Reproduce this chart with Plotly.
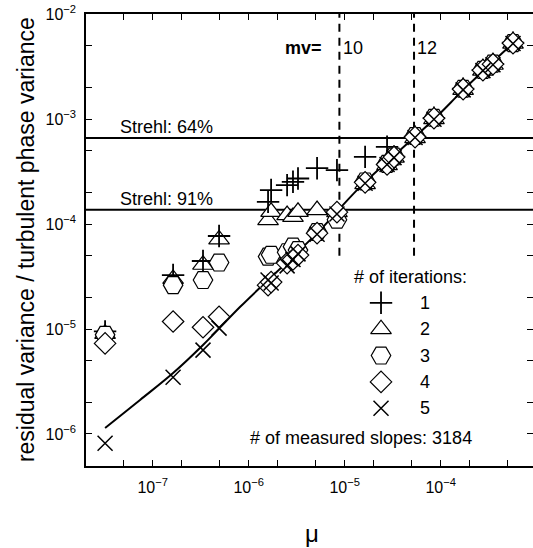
import math
import plotly.graph_objects as go

# ---------------- data ----------------
mu = [3.19e-8, 1.63e-7, 3.34e-7, 4.91e-7, 1.59e-6, 1.71e-6, 2.51e-6, 2.89e-6,
      3.26e-6, 5.15e-6, 8.3e-6, 1.63e-5, 2.76e-5, 3.26e-5, 5.4e-5, 8.5e-5,
      1.71e-4, 2.75e-4, 3.5e-4, 5.66e-4]

iter1 = [9.5e-6, 3.27e-5, 4.45e-5, 7.7e-5, 1.63e-4, 2.11e-4, 2.35e-4, 2.53e-4,
         2.72e-4, 3.41e-4, 3.27e-4, 4.37e-4, 5.45e-4, 4.4e-4, 6.8e-4, 1.03e-3,
         1.95e-3, 2.95e-3, 3.36e-3, 5.35e-3]
iter2 = [9.0e-6, 3.0e-5, 4.1e-5, 7.15e-5, 1.09e-4, 1.31e-4, 1.22e-4, 1.17e-4,
         1.31e-4, 1.36e-4, 1.3e-4, 2.4e-4, 3.65e-4, 4.3e-4, 6.6e-4, 1.0e-3,
         1.9e-3, 2.9e-3, 3.3e-3, 5.25e-3]
iter3 = [8.8e-6, 2.62e-5, 2.93e-5, 4.3e-5, 4.9e-5, 5.1e-5, 5.4e-5, 6.1e-5,
         5.65e-5, 8.4e-5, 1.1e-4, 2.55e-4, 3.75e-4, 4.4e-4, 6.9e-4, 1.03e-3,
         1.95e-3, 2.95e-3, 3.38e-3, 5.3e-3]
iter4 = [7.3e-6, 1.18e-5, 1.04e-5, 1.31e-5, 2.62e-5, 2.8e-5, 4.25e-5, 4.6e-5,
         5.07e-5, 8.2e-5, 1.3e-4, 2.5e-4, 3.7e-4, 4.35e-4, 6.75e-4, 1.02e-3,
         1.93e-3, 2.93e-3, 3.34e-3, 5.3e-3]
iter5 = [8.15e-7, 3.47e-6, 6.3e-6, 1.02e-5, 2.93e-5, 2.75e-5, 4.0e-5, 4.6e-5,
         5.2e-5, 8.0e-5, 1.25e-4, 2.45e-4, 3.7e-4, 4.3e-4, 6.7e-4, 1.0e-3,
         1.9e-3, 2.9e-3, 3.3e-3, 5.25e-3]

model_mu = [3.19e-8, 7.38e-8, 1.63e-7, 3.34e-7, 8.1e-7, 1.59e-6, 5.15e-6,
            1.44e-5, 8.73e-5, 1.71e-4, 5.66e-4]
model_y = [1.14e-6, 2.11e-6, 3.81e-6, 7.05e-6, 1.62e-5, 2.93e-5, 8.2e-5,
           2.25e-4, 1.02e-3, 1.89e-3, 5.3e-3]

strehl_labels = ["Strehl: 64%", "Strehl: 91%"]
strehl_levels = [6.6e-4, 1.37e-4]

mv_labels = ["10", "12"]
mv_mu = [8.8e-6, 5.27e-5]

iter_labels = ["1", "2", "3", "4", "5"]
n_slopes = 3184

x_decades = [-8, -7, -6, -5, -4, -3]
y_decades = [-7, -6, -5, -4, -3, -2]

# ---------------- style ----------------
FONT = "Liberation Sans, Arial, sans-serif"
XR = [-7.695, -3.039]
YR = [-6.305, -1.998]

SYM = {
    1: ("cross-thin", 16, 1.8),
    2: ("triangle-up", 18, 1.2),
    3: ("hexagon2", 19.5, 1.2),
    4: ("diamond", 16.5, 1.2),
    5: ("x-thin", 15, 1.5),
}

fig = go.Figure()

for lev in strehl_levels:
    fig.add_trace(go.Scatter(x=[10 ** (XR[0] - 0.1), 10 ** (XR[1] + 0.1)], y=[lev, lev],
                             mode="lines", line=dict(color="black", width=2),
                             showlegend=False, hoverinfo="skip"))
for m in mv_mu:
    fig.add_trace(go.Scatter(x=[m, m], y=[5e-5, 10 ** (YR[1] + 0.1)],
                             mode="lines", line=dict(color="black", width=2, dash="8px,6px"),
                             showlegend=False, hoverinfo="skip"))
fig.add_trace(go.Scatter(x=model_mu, y=model_y, mode="lines", line_shape="spline",
                         line=dict(color="black", width=2), showlegend=False))

for k, vals in [(2, iter2), (1, iter1), (3, iter3), (4, iter4), (5, iter5)]:
    sym, size, lw = SYM[k]
    fig.add_trace(go.Scatter(x=mu, y=vals, mode="markers",
                             marker=dict(symbol=sym, size=size, color="white",
                                         line=dict(color="black", width=lw)),
                             showlegend=False))

leg_x = -4.622
leg_y0 = -4.75
leg_dy = 0.2513
for i in range(5):
    sym, size, lw = SYM[i + 1]
    fig.add_trace(go.Scatter(x=[10 ** leg_x], y=[10 ** (leg_y0 - i * leg_dy)], mode="markers",
                             marker=dict(symbol=sym, size=size, color="white",
                                         line=dict(color="black", width=lw)),
                             showlegend=False, hoverinfo="skip"))

ann = []
def txt(x, y, s, size=18, xanchor="left", bold=False):
    ann.append(dict(x=x, y=y, xref="x", yref="y", text=("<b>%s</b>" % s) if bold else s,
                    showarrow=False, xanchor=xanchor, yanchor="middle",
                    font=dict(family=FONT, size=size, color="black")))

for lab, yv in zip(strehl_labels, [-3.076, -3.762]):
    txt(-7.361, yv, lab)
txt(-5.643, -2.324, "mv=", bold=True)
txt(-5.039, -2.324, mv_labels[0])
txt(-4.268, -2.324, mv_labels[1])
txt(-4.927, -4.508, "# of iterations:")
for i, lab in enumerate(iter_labels):
    txt(-4.164, leg_y0 - i * leg_dy, lab, xanchor="center")
txt(-6.007, -6.041, "# of measured slopes: %d" % n_slopes)

ann.append(dict(x=-0.134, y=0.5, xref="paper", yref="paper", textangle=-90,
                text="residual variance / turbulent phase variance", showarrow=False,
                xanchor="center", yanchor="middle",
                font=dict(family=FONT, size=23, color="black")))
ann.append(dict(x=0.505, y=-0.15, xref="paper", yref="paper", text="μ", showarrow=False,
                xanchor="center", yanchor="middle",
                font=dict(family=FONT, size=24, color="black")))

def ticks_for(decades):
    vals, texts = [], []
    for e in decades:
        vals.append(10.0 ** e)
        texts.append("10<sup>\u2212%d</sup>" % (-e))
        vals += [2 * 10.0 ** e, 5 * 10.0 ** e]
        texts += ["", ""]
    return vals, texts

xv, xt = ticks_for(x_decades)
yv, yt = ticks_for(y_decades)

axis_common = dict(type="log", tickmode="array", automargin=False,
                   ticks="inside", ticklen=6, tickwidth=1.2, tickcolor="black",
                   showline=True, linecolor="black", linewidth=1.5, mirror="ticks",
                   showgrid=False, zeroline=False,
                   tickfont=dict(family=FONT, size=16, color="black"))

fig.update_layout(
    width=533, height=548,
    margin=dict(l=86, r=0, t=14, b=82, autoexpand=False),
    paper_bgcolor="white", plot_bgcolor="white",
    xaxis=dict(range=XR, tickvals=xv, ticktext=xt, ticklabelstandoff=6, **axis_common),
    yaxis=dict(range=YR, tickvals=yv, ticktext=yt, ticklabelstandoff=5, **axis_common),
    annotations=ann,
    showlegend=False,
)

fig.write_html("out.html", config={"displayModeBar": False},
               post_script="document.body.style.margin='0';document.body.style.overflow='hidden';")
